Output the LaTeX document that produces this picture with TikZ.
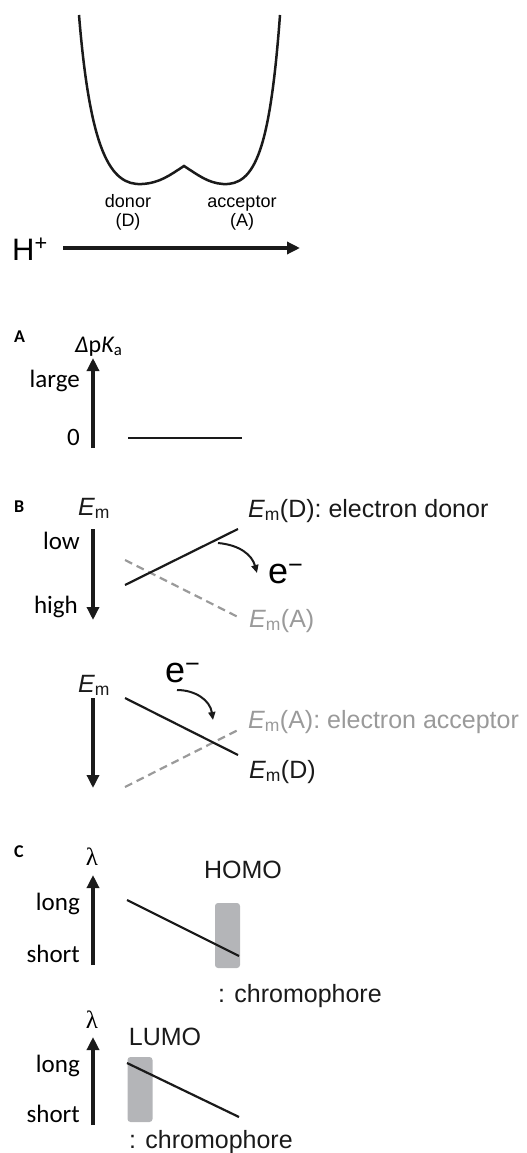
\documentclass[tikz,border=0pt]{standalone}
\usepackage{fontspec}
\setmainfont{Liberation Sans}
\newfontfamily\calib{Carlito}
\newfontfamily\serifgreek{Liberation Serif}
\usepackage{tikz}
\usetikzlibrary{arrows.meta, positioning, calc}
\definecolor{lvlblack}{HTML}{1A1A1A}
\definecolor{lvlgray}{HTML}{9A9A9A}
\definecolor{boxgray}{HTML}{B4B5B8}

\begin{document}
\begin{tikzpicture}[x=1pt, y=-1pt,
    axis/.style={line width=3.6pt, draw=lvlblack, -{Triangle[length=13pt, width=12pt]}},
    level/.style={line width=2.2pt, draw=lvlblack},
    levelgray/.style={line width=2.2pt, draw=lvlgray, dash pattern=on 8pt off 5pt},
    hop/.style={line width=2pt, draw=lvlblack, -{Triangle[length=8pt, width=7pt]}},
    tick/.style={font=\fontsize{25}{28}\selectfont\calib, anchor=base east, inner sep=0pt},
    panel/.style={font=\fontsize{18}{20}\selectfont\calib\bfseries, anchor=base west, inner sep=0pt},
    state/.style={font=\fontsize{25}{29}\selectfont, anchor=base west, inner sep=0pt, text=#1},
    state/.default=lvlblack,
    small/.style={font=\fontsize{18}{20}\selectfont, anchor=base, inner sep=0pt},
    elec/.style={font=\fontsize{36}{40}\selectfont, anchor=base west, inner sep=0pt},
    wave/.style={font=\fontsize{25}{28}\selectfont\serifgreek, anchor=base, inner sep=0pt},
    orbital/.style={rectangle, rounded corners=3pt, fill=boxgray, minimum width=25pt, minimum height=65pt, inner sep=0pt}
]
\useasboundingbox (0,0) rectangle (527,1153);

% proton potential
\draw[line width=2.5pt, lvlblack] (79,15) .. controls (90,150) and (110,186) .. (142,184)
    .. controls (160,183) and (170,175) .. (184,166)
    .. controls (198,175) and (208,183) .. (223,184)
    .. controls (255,186) and (270,150) .. (280,15);
\node[small] (don) at (128,207) {donor};
\node[small] (donl) at (128,226) {(D)};
\node[small] (acc) at (242,207) {acceptor};
\node[small] (accl) at (242,226) {(A)};
\node[font=\fontsize{31}{34}\selectfont, anchor=base west, inner sep=0pt] (hp) at (12,260) {H\textsuperscript{+}};
\coordinate (hs) at (63,248);
\coordinate (he) at (300,248);
\draw[line width=3.4pt, lvlblack, -{Triangle[length=13pt, width=12pt]}] (hs) -- (he);

% A
\node[panel] (pa) at (14,342) {A};
\node[font=\fontsize{24}{27}\selectfont\calib, anchor=base west, inner sep=0pt] (pka) at (75,352) {{\itshape Δ}p{\itshape K}\textsubscript{a}};
\coordinate (a0) at (93,448);
\coordinate (a1) at (93,358);
\draw[axis] (a0) -- (a1);
\node[tick] (large) at (80,387) {large};
\node[tick] (zero) at (80,445) {0};
\coordinate (pk1) at (128,438);
\coordinate (pk2) at (242,438);
\draw[level] (pk1) -- (pk2);

% B, upper
\node[panel] (pb) at (14,512) {B};
\node[state, anchor=base] (em1) at (94,515) {{\itshape E}\textsubscript{m}};
\coordinate (b0) at (93,529);
\coordinate (b1) at (93,620);
\draw[axis] (b0) -- (b1);
\node[tick] (low) at (80,549) {low};
\node[tick] (high) at (78,613) {high};
\coordinate (ua1) at (125,560);
\coordinate (ua2) at (238,617);
\draw[levelgray] (ua1) -- (ua2);
\coordinate (ud1) at (125,585);
\coordinate (ud2) at (238,529);
\draw[level] (ud1) -- (ud2);
\node[state] (emd1) at (248,517) {{\itshape E}\textsubscript{m}(D): electron donor};
\node[state=lvlgray] (ema1) at (249,627) {{\itshape E}\textsubscript{m}(A)};
\node[elec] (e1) at (268,583) {e\textsuperscript{−}};
\coordinate (h1) at (218,543);
\coordinate (h2) at (257,573);
\draw[hop] (h1) .. controls (240,545) and (252,555) .. (h2);

% B, lower
\node[state, anchor=base] (em2) at (94,692) {{\itshape E}\textsubscript{m}};
\coordinate (c0) at (93,698);
\coordinate (c1) at (93,788);
\draw[axis] (c0) -- (c1);
\coordinate (la1) at (125,787);
\coordinate (la2) at (238,730);
\draw[levelgray] (la1) -- (la2);
\coordinate (ld1) at (125,698);
\coordinate (ld2) at (238,755);
\draw[level] (ld1) -- (ld2);
\node[state=lvlgray] (ema2) at (248,728) {{\itshape E}\textsubscript{m}(A): electron acceptor};
\node[state] (emd2) at (249,778) {{\itshape E}\textsubscript{m}(D)};
\node[elec] (e2) at (165,682) {e\textsuperscript{−}};
\coordinate (g1) at (177,690);
\coordinate (g2) at (213,720);
\draw[hop] (g1) .. controls (195,690) and (210,700) .. (g2);

% C, upper
\node[panel] (pc) at (14,857) {C};
\node[wave] (lam1) at (92,865) {λ};
\coordinate (d0) at (93,965);
\coordinate (d1) at (93,875);
\draw[axis] (d0) -- (d1);
\node[tick] (long1) at (80,910) {long};
\node[tick] (short1) at (80,962) {short};
\node[orbital] (homo) at (227.5,935.5) {};
\coordinate (w1) at (127,900);
\coordinate (w2) at (239,956);
\draw[level] (w1) -- (w2);
\node[state, anchor=base] (homol) at (243,878) {HOMO};
\node[state] (chr1) at (218,1002) {: chromophore};

% C, lower
\node[wave] (lam2) at (92,1028) {λ};
\coordinate (f0) at (93,1125);
\coordinate (f1) at (93,1037);
\draw[axis] (f0) -- (f1);
\node[tick] (long2) at (80,1072) {long};
\node[tick] (short2) at (80,1122) {short};
\node[orbital] (lumo) at (140,1089.5) {};
\coordinate (v1) at (127,1063);
\coordinate (v2) at (239,1117);
\draw[level] (v1) -- (v2);
\node[state, anchor=base] (lumol) at (165,1045) {LUMO};
\node[state] (chr2) at (129,1148) {: chromophore};

\end{tikzpicture}
\end{document}
